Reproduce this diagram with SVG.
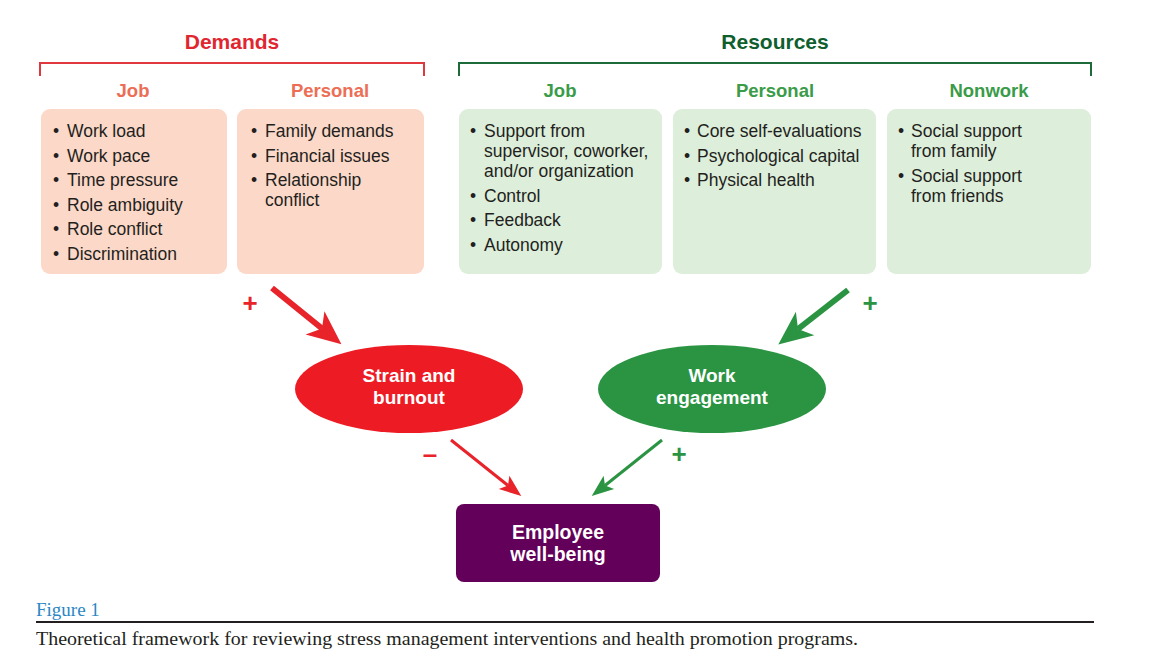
<svg xmlns="http://www.w3.org/2000/svg" width="1163" height="663" viewBox="0 0 1163 663">
<style>
.sans{font-family:"Liberation Sans",Arial,sans-serif}
.title{font-family:"Liberation Sans",Arial,sans-serif;font-weight:bold;font-size:21px;text-anchor:middle}
.sub{font-family:"Liberation Sans",Arial,sans-serif;font-weight:bold;font-size:18.5px;text-anchor:middle}
.dsub{fill:#ec6e55}
.rsub{fill:#3a9b48}
.item{font-family:"Liberation Sans",Arial,sans-serif;font-size:17.5px;fill:#231f20}
.dbox{fill:#fcd8c8}
.rbox{fill:#ddeedb}
.node-t{font-family:"Liberation Sans",Arial,sans-serif;font-weight:bold;font-size:19px;fill:#ffffff;text-anchor:middle}
.sign{font-family:"Liberation Sans",Arial,sans-serif;font-weight:bold;font-size:26px;text-anchor:middle}
.red{stroke:#e8232a;fill:none}
.green{stroke:#2b9443;fill:none}
</style>
<defs>
<marker id="hbR" markerUnits="userSpaceOnUse" markerWidth="40" markerHeight="40" viewBox="-12 -18 40 36" refX="0" refY="0" orient="auto">
<path d="M25,0 L-9,-15 L0,0 L-9,15 Z" fill="#e8232a"/>
</marker>
<marker id="hbG" markerUnits="userSpaceOnUse" markerWidth="40" markerHeight="40" viewBox="-12 -18 40 36" refX="0" refY="0" orient="auto">
<path d="M25,0 L-9,-15 L0,0 L-9,15 Z" fill="#2b9443"/>
</marker>
<marker id="hsR" markerUnits="userSpaceOnUse" markerWidth="30" markerHeight="24" viewBox="-8 -10 30 20" refX="0" refY="0" orient="auto">
<path d="M17,0 L-5,-8.5 L0,0 L-5,8.5 Z" fill="#e8232a"/>
</marker>
<marker id="hsG" markerUnits="userSpaceOnUse" markerWidth="30" markerHeight="24" viewBox="-8 -10 30 20" refX="0" refY="0" orient="auto">
<path d="M17,0 L-5,-8.5 L0,0 L-5,8.5 Z" fill="#2b9443"/>
</marker>
</defs>
<rect width="1163" height="663" fill="#ffffff"/>

<g id="demands-header">
<text class="title" x="232" y="49" fill="#e0262f">Demands</text>
<path d="M40,76 V63 H424 V76" fill="none" stroke="#e0383e" stroke-width="2"/>
<text class="sub dsub" x="133" y="97">Job</text>
<text class="sub dsub" x="330" y="97">Personal</text>
</g>
<g id="resources-header">
<text class="title" x="775" y="49" fill="#0f5e2e">Resources</text>
<path d="M459,76 V63 H1091 V76" fill="none" stroke="#1e6b3a" stroke-width="2"/>
<text class="sub rsub" x="560" y="97">Job</text>
<text class="sub rsub" x="775" y="97">Personal</text>
<text class="sub rsub" x="989" y="97">Nonwork</text>
</g>

<g id="demands-job">
<rect class="dbox" x="41" y="109" width="186" height="165" rx="9"/>
<g class="item">
<text x="53" y="137">•</text><text x="67" y="137">Work load</text>
<text x="53" y="161.5">•</text><text x="67" y="161.5">Work pace</text>
<text x="53" y="186">•</text><text x="67" y="186">Time pressure</text>
<text x="53" y="210.5">•</text><text x="67" y="210.5">Role ambiguity</text>
<text x="53" y="235">•</text><text x="67" y="235">Role conflict</text>
<text x="53" y="259.5">•</text><text x="67" y="259.5">Discrimination</text>
</g>
</g>
<g id="demands-personal">
<rect class="dbox" x="237" y="109" width="187" height="165" rx="9"/>
<g class="item">
<text x="251" y="137">•</text><text x="265" y="137">Family demands</text>
<text x="251" y="161.5">•</text><text x="265" y="161.5">Financial issues</text>
<text x="251" y="186">•</text><text x="265" y="186">Relationship</text>
<text x="265" y="206">conflict</text>
</g>
</g>
<g id="resources-job">
<rect class="rbox" x="459" y="109" width="203" height="165" rx="9"/>
<g class="item">
<text x="470" y="137">•</text><text x="484" y="137">Support from</text>
<text x="484" y="157">supervisor, coworker,</text>
<text x="484" y="177">and/or organization</text>
<text x="470" y="201.5">•</text><text x="484" y="201.5">Control</text>
<text x="470" y="226">•</text><text x="484" y="226">Feedback</text>
<text x="470" y="250.5">•</text><text x="484" y="250.5">Autonomy</text>
</g>
</g>
<g id="resources-personal">
<rect class="rbox" x="673" y="109" width="203" height="165" rx="9"/>
<g class="item">
<text x="684" y="137">•</text><text x="697" y="137">Core self-evaluations</text>
<text x="684" y="161.5">•</text><text x="697" y="161.5">Psychological capital</text>
<text x="684" y="186">•</text><text x="697" y="186">Physical health</text>
</g>
</g>
<g id="resources-nonwork">
<rect class="rbox" x="887" y="109" width="204" height="165" rx="9"/>
<g class="item">
<text x="898" y="137">•</text><text x="911" y="137">Social support</text>
<text x="911" y="157">from family</text>
<text x="898" y="181.5">•</text><text x="911" y="181.5">Social support</text>
<text x="911" y="201.5">from friends</text>
</g>
</g>

<g id="strain">
<ellipse cx="409" cy="389" rx="114" ry="44" fill="#ed1c24"/>
<text class="node-t" x="409" y="382">Strain and</text>
<text class="node-t" x="409" y="404">burnout</text>
</g>
<g id="engagement">
<ellipse cx="712" cy="389" rx="114" ry="44" fill="#2b9443"/>
<text class="node-t" x="712" y="382">Work</text>
<text class="node-t" x="712" y="404">engagement</text>
</g>
<g id="wellbeing">
<rect x="456" y="504" width="204" height="78" rx="8" fill="#62005a"/>
<text class="node-t" x="558" y="539" style="font-size:19.5px">Employee</text>
<text class="node-t" x="558" y="561" style="font-size:19.5px">well-being</text>
</g>

<g id="connectors">
<line class="red" x1="272" y1="288" x2="322" y2="328.5" stroke-width="6" marker-end="url(#hbR)"/>
<line class="green" x1="848" y1="290" x2="798" y2="329" stroke-width="6" marker-end="url(#hbG)"/>
<line class="red" x1="451" y1="440" x2="508" y2="485.5" stroke-width="3" marker-end="url(#hsR)"/>
<line class="green" x1="662" y1="440" x2="605" y2="485.5" stroke-width="3" marker-end="url(#hsG)"/>
<text class="sign" x="250" y="312" fill="#e8232a">+</text>
<text class="sign" x="870" y="312" fill="#2b9443">+</text>
<text class="sign" x="430" y="463" fill="#e8232a">–</text>
<text class="sign" x="679" y="463" fill="#2b9443">+</text>
</g>

<g id="caption">
<text x="36" y="616" font-family="'Liberation Serif','Times New Roman',serif" font-size="19" fill="#2b87c5">Figure 1</text>
<line x1="36" y1="622" x2="1094" y2="622" stroke="#231f20" stroke-width="2"/>
<text x="36" y="645" font-family="'Liberation Serif','Times New Roman',serif" font-size="19" fill="#231f20" textLength="822" lengthAdjust="spacingAndGlyphs">Theoretical framework for reviewing stress management interventions and health promotion programs.</text>
</g>
</svg>
